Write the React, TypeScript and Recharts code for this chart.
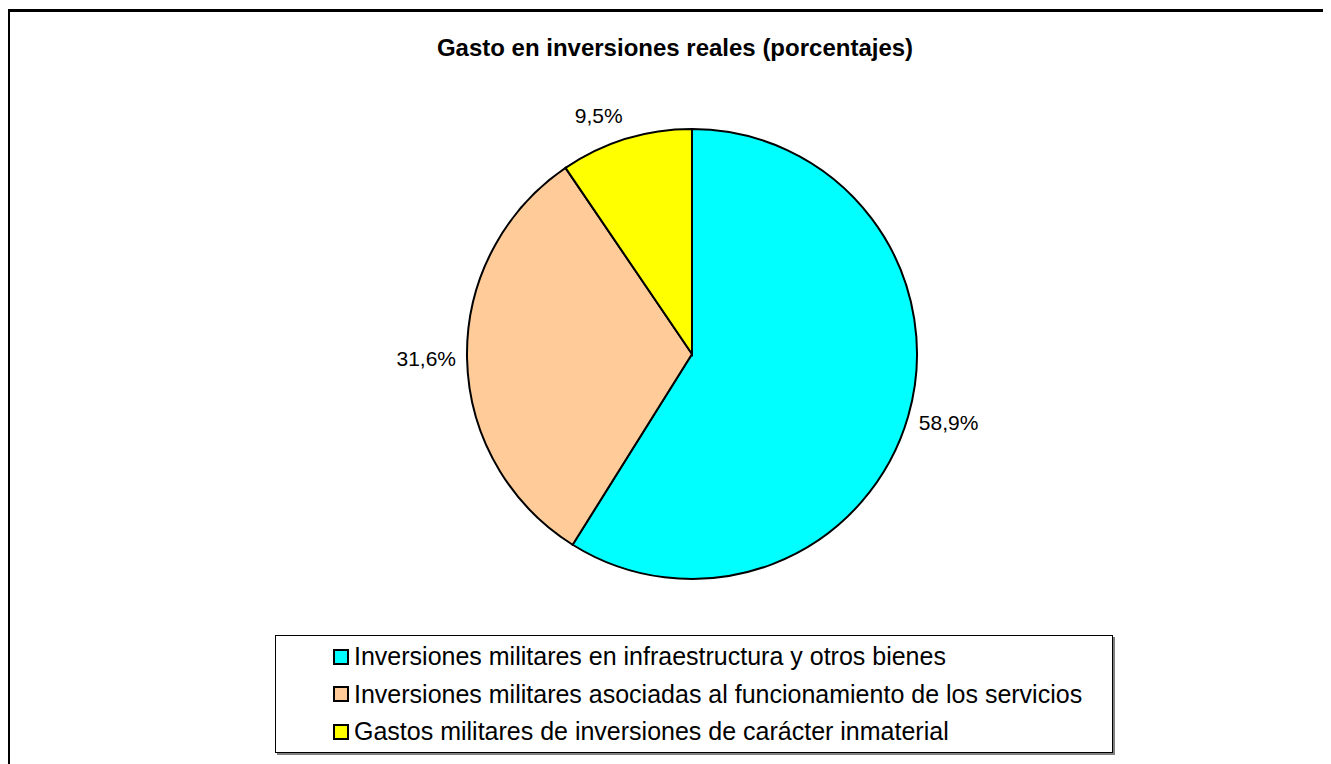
import { PieChart, Pie, Cell, Legend } from "recharts"

const categories = [
  "Inversiones militares en infraestructura y otros bienes",
  "Inversiones militares asociadas al funcionamiento de los servicios",
  "Gastos militares de inversiones de carácter inmaterial",
]
const values = [58.9, 31.6, 9.5]
const colors = ["#00FFFF", "#FFCC99", "#FFFF00"]
const title = "Gasto en inversiones reales (porcentajes)"

const data = categories.map((name, i) => ({ name, value: values[i] }))

const FONT = '"Liberation Sans", Arial, sans-serif'
const RADIAN = Math.PI / 180

function renderLabel(props: any) {
  const { cx, cy, midAngle, outerRadius, value } = props
  const r = outerRadius + 11
  const cos = Math.cos(-midAngle * RADIAN)
  const sin = Math.sin(-midAngle * RADIAN)
  const x = cx + r * cos
  const y = cy + r * sin + sin * 13.5
  const anchor = cos > 0.1 ? "start" : cos < -0.1 ? "end" : "middle"
  return (
    <text
      x={x}
      y={y}
      textAnchor={anchor}
      dominantBaseline="central"
      fontFamily={FONT}
      fontSize={21}
      fill="#000"
    >
      {value.toFixed(1).replace(".", ",")}%
    </text>
  )
}

// legend drawn from our own arrays so the order stays as in the source
function LegendBox() {
  return (
    <div
      style={{
        width: 838,
        height: 118,
        boxSizing: "border-box",
        border: "1px solid #000",
        boxShadow: "2px 2px 0 #808080",
        background: "#fff",
        paddingTop: 2,
        fontFamily: FONT,
        fontSize: 25,
        color: "#000",
      }}
    >
      {categories.map((name, i) => (
        <div key={name} style={{ display: "flex", alignItems: "center", height: 37.5, paddingLeft: 57 }}>
          <span
            style={{
              display: "inline-block",
              width: 16,
              height: 16,
              boxSizing: "border-box",
              border: "2px solid #000",
              background: colors[i],
              marginRight: 5,
            }}
          />
          <span>{name}</span>
        </div>
      ))}
    </div>
  )
}

export default function App() {
  return (
    <div
      style={{
        position: "relative",
        width: 1331,
        height: 764,
        margin: "-8px 0 0 -8px",
        overflow: "hidden",
        background: "#fff",
      }}
    >
      <div
        style={{
          position: "absolute",
          left: 7,
          top: 9,
          width: 1400,
          height: 800,
          border: "3px solid #000",
        }}
      />
      <div
        style={{
          position: "absolute",
          left: 0,
          width: 1350,
          top: 36,
          textAlign: "center",
          fontFamily: FONT,
          fontWeight: "bold",
          fontSize: 24,
          lineHeight: "24px",
        }}
      >
        {title}
      </div>
      <div style={{ position: "absolute", left: 0, top: 0 }}>
        <PieChart width={1331} height={764} margin={{ top: 0, right: 0, bottom: 0, left: 0 }}>
          <Pie
            data={data}
            dataKey="value"
            nameKey="name"
            cx={692}
            cy={354}
            outerRadius={225}
            startAngle={90}
            endAngle={-270}
            stroke="#000"
            strokeWidth={2}
            label={renderLabel}
            labelLine={false}
            isAnimationActive={false}
          >
            {data.map((d, i) => (
              <Cell key={d.name} fill={colors[i]} />
            ))}
          </Pie>
          <Legend
            content={<LegendBox />}
            wrapperStyle={{ position: "absolute", left: 275, top: 635, width: 838, height: 118 }}
          />
        </PieChart>
      </div>
    </div>
  )
}
